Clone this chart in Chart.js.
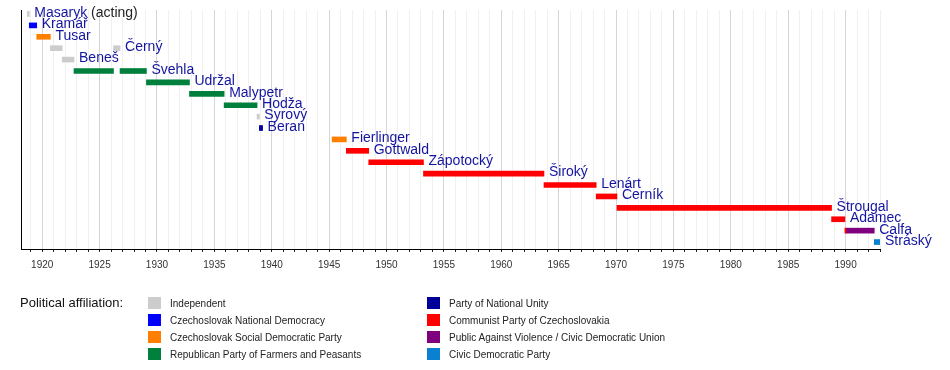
<!DOCTYPE html>
<html>
<head>
<meta charset="utf-8">
<title>Prime Ministers of Czechoslovakia</title>
<script src="https://cdn.jsdelivr.net/npm/chart.js@4.4.1/dist/chart.umd.min.js"></script>
<style>
    body { margin: 0; background: #fff; font-family: "Liberation Sans", Arial, sans-serif; }
    #wrap { position: relative; width: 950px; height: 370px; }
    #legend { position: absolute; left: 0; top: 0; width: 950px; height: 370px; pointer-events: none; }
    .caption { position: absolute; left: 20px; top: 295px; font-size: 13px; color: #111; }
    .item { position: absolute; font-size: 10px; color: #222; height: 12px; line-height: 12px; white-space: nowrap; }
    .item span.box { position: absolute; left: 0; top: 0; width: 13px; height: 12px; }
    .item span.txt { position: absolute; left: 22px; top: 1px; }
</style>
</head>
<body>
<div id="wrap">
    <canvas id="timelineChart" width="950" height="370"></canvas>
    <div id="legend"><div class="caption">Political affiliation:</div></div>
</div>
<script>
// Parties (legend order) and their colours
const parties = [
    'Independent',
    'Czechoslovak National Democracy',
    'Czechoslovak Social Democratic Party',
    'Republican Party of Farmers and Peasants',
    'Party of National Unity',
    'Communist Party of Czechoslovakia',
    'Public Against Violence / Civic Democratic Union',
    'Civic Democratic Party'
];
const partyColors = ['#cccccc', '#0000ff', '#ff8000', '#007f3d', '#000099', '#ff0000', '#7f007f', '#0a80d0'];

// One row per prime minister
const ministers = ['Masaryk', 'Kramář', 'Tusar', 'Černý', 'Beneš', 'Švehla', 'Udržal', 'Malypetr', 'Hodža',
    'Syrový', 'Beran', 'Fierlinger', 'Gottwald', 'Zápotocký', 'Široký', 'Lenárt', 'Černík', 'Štrougal',
    'Adamec', 'Čalfa', 'Stráský'];
const ministerNotes = ['(acting)'];

// Terms in office (decimal years), row index and party index
const termRow   = [0, 1, 2, 3, 3, 4, 5, 5, 6, 7, 8, 9, 10, 11, 12, 13, 14, 15, 16, 17, 18, 19, 19, 20];
const termStart = [1918.70, 1918.87, 1919.52, 1920.71, 1926.21, 1921.74, 1922.77, 1926.78, 1929.08, 1932.83,
    1935.85, 1938.72, 1938.92, 1945.26, 1946.50, 1948.45, 1953.22, 1963.72, 1968.27, 1970.08, 1988.78,
    1989.94, 1990.05, 1992.50];
const termEnd   = [1918.87, 1919.52, 1920.71, 1921.74, 1926.78, 1922.77, 1926.21, 1929.08, 1932.83, 1935.85,
    1938.72, 1938.92, 1939.20, 1946.50, 1948.45, 1953.22, 1963.72, 1968.27, 1970.08, 1988.78, 1989.94,
    1990.05, 1992.50, 1993.00];
const termParty = [0, 1, 2, 0, 0, 0, 3, 3, 3, 3, 3, 0, 4, 2, 5, 5, 5, 5, 5, 5, 5, 5, 6, 7];

// Year axis
const yearMin = 1918.15;
const yearMax = 1993;

function buildDatasets() {
    return parties.map((party, p) => ({
        label: party,
        backgroundColor: partyColors[p],
        borderWidth: 0,
        barThickness: 5,
        grouped: false,
        data: termRow
            .map((row, i) => ({ x: [termStart[i], termEnd[i]], y: row, party: termParty[i] }))
            .filter(d => d.party === p)
    }));
}

// Name labels at the end of each minister's last term
const nameLabels = {
    id: 'nameLabels',
    afterDatasetsDraw(chart) {
        const { ctx, scales } = chart;
        ctx.save();
        ctx.font = '14px "Liberation Sans", Arial, sans-serif';
        ctx.textBaseline = 'middle';
        ministers.forEach((name, row) => {
            let end = -Infinity;
            termRow.forEach((r, i) => { if (r === row && termEnd[i] > end) end = termEnd[i]; });
            const x = scales.x.getPixelForValue(end) + 5;
            const y = scales.y.getPixelForValue(row) - 1;
            ctx.fillStyle = '#1414a0';
            ctx.fillText(name, x, y);
            if (ministerNotes[row]) {
                ctx.fillStyle = '#222';
                ctx.fillText(' ' + ministerNotes[row], x + ctx.measureText(name).width, y);
            }
        });
        ctx.restore();
    }
};

function renderLegend() {
    const legend = document.getElementById('legend');
    parties.forEach((party, p) => {
        const col = Math.floor(p / 4);
        const row = p % 4;
        const item = document.createElement('div');
        item.className = 'item';
        item.style.left = (148 + col * 279) + 'px';
        item.style.top = (297 + row * 17) + 'px';
        item.innerHTML = '<span class="box" style="background:' + partyColors[p] + '"></span><span class="txt"></span>';
        item.querySelector('.txt').textContent = party;
        legend.appendChild(item);
    });
}

document.addEventListener('DOMContentLoaded', () => {
    new Chart(document.getElementById('timelineChart'), {
        type: 'bar',
        data: { datasets: buildDatasets() },
        options: {
            indexAxis: 'y',
            responsive: false,
            animation: false,
            layout: { padding: { left: 21, right: 70, top: 10, bottom: 91 } },
            plugins: { legend: { display: false }, tooltip: { enabled: false } },
            scales: {
                x: {
                    type: 'linear',
                    min: yearMin,
                    max: yearMax,
                    afterFit: scale => { scale.height = 30; },
                    border: { display: true, color: '#000', width: 1 },
                    grid: {
                        color: c => (c.tick && c.tick.value % 5 === 0) ? '#d6d6d6' : '#f0f0f0',
                        tickColor: '#222',
                        tickLength: 3
                    },
                    ticks: {
                        stepSize: 1,
                        includeBounds: false,
                        autoSkip: false,
                        maxRotation: 0,
                        padding: 7,
                        color: '#333',
                        font: { family: '"Liberation Sans", Arial, sans-serif', size: 10 },
                        callback: v => (v % 5 === 0 && v <= 1990) ? String(v) : ''
                    }
                },
                y: {
                    type: 'linear',
                    reverse: true,
                    offset: false,
                    min: -0.35,
                    max: 20.61,
                    afterFit: scale => { scale.width = 0; },
                    border: { display: true, color: '#000', width: 1 },
                    grid: { display: false, offset: false },
                    ticks: { display: false }
                }
            }
        },
        plugins: [nameLabels]
    });
    renderLegend();
});
</script>
</body>
</html>
